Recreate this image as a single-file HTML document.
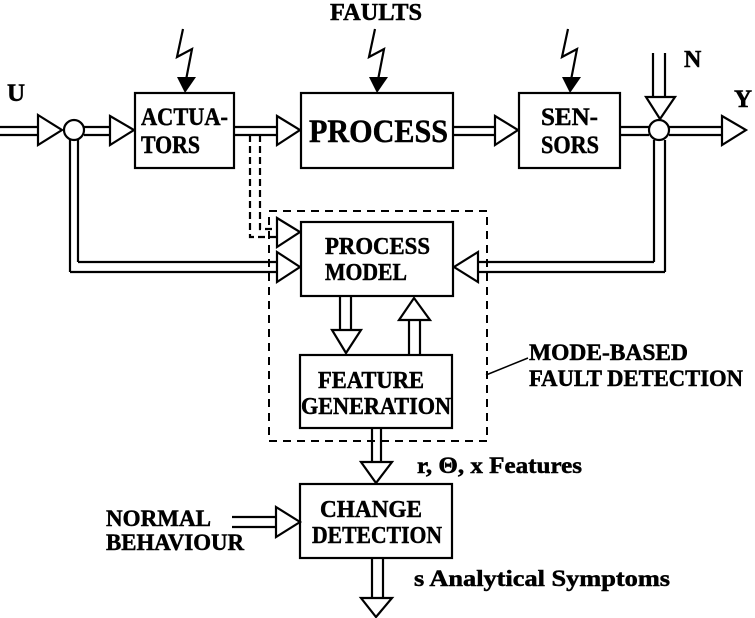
<!DOCTYPE html>
<html><head><meta charset="utf-8"><style>
html,body{margin:0;padding:0;background:#fff;}
svg{display:block;}
text{font-family:"Liberation Serif",serif;font-weight:bold;fill:#000;stroke:#000;stroke-width:0.5;}
</style></head><body>
<svg width="755" height="618" viewBox="0 0 755 618" xmlns="http://www.w3.org/2000/svg">
<g fill="none" stroke="#000" stroke-width="2.2">
<rect x="135" y="93" width="99" height="75"/>
<rect x="301" y="93" width="152" height="75"/>
<rect x="519" y="93" width="101" height="75"/>
<rect x="301" y="222" width="152" height="74"/>
<rect x="300" y="355" width="152" height="73"/>
<rect x="300" y="484" width="152" height="74"/>
<rect x="269" y="211" width="218" height="230" stroke-dasharray="8,6" stroke-width="2"/>
<line x1="486" y1="375" x2="528" y2="358" stroke-width="1.5"/>
<line x1="0" y1="127" x2="38" y2="127"/><line x1="0" y1="135" x2="38" y2="135"/>
<polygon points="38,115 62,130 38,145"/>
<circle cx="74" cy="130" r="10"/>
<line x1="84" y1="127" x2="110" y2="127"/><line x1="84" y1="135" x2="110" y2="135"/>
<polygon points="110,116 134,130 110,145"/>
<line x1="234" y1="127" x2="277" y2="127"/><line x1="234" y1="135" x2="277" y2="135"/>
<polygon points="277,116 300,130 277,145"/>
<line x1="453" y1="127" x2="495" y2="127"/><line x1="453" y1="135" x2="495" y2="135"/>
<polygon points="495,116 518,130 495,145"/>
<line x1="620" y1="127" x2="649" y2="127"/><line x1="620" y1="135" x2="649" y2="135"/>
<circle cx="659" cy="130" r="10"/>
<line x1="669" y1="127" x2="722" y2="127"/><line x1="669" y1="135" x2="722" y2="135"/>
<polygon points="722,116 746,130 722,145"/>
<line x1="653" y1="53" x2="653" y2="97"/><line x1="665" y1="53" x2="665" y2="97"/>
<polygon points="646,97 675,97 660,119"/>
<line x1="70" y1="140" x2="70" y2="272"/><line x1="78" y1="140" x2="78" y2="262"/>
<line x1="70" y1="272" x2="277" y2="272"/><line x1="78" y1="262" x2="277" y2="262"/>
<polygon points="277,252 300,267 277,282"/>
<path d="M250,135 V237 H277" stroke-dasharray="7,4"/>
<path d="M260,135 V229 H277" stroke-dasharray="7,4"/>
<polygon points="277,218 300,232 277,247"/>
<line x1="654" y1="140" x2="654" y2="262"/><line x1="665" y1="140" x2="665" y2="272"/>
<line x1="478" y1="262" x2="654" y2="262"/><line x1="478" y1="272" x2="665" y2="272"/>
<polygon points="478,252 454,267 478,282"/>
<line x1="340" y1="296" x2="340" y2="330"/><line x1="351" y1="296" x2="351" y2="330"/>
<polygon points="332,330 361,330 346,353"/>
<line x1="409" y1="355" x2="409" y2="320"/><line x1="420" y1="355" x2="420" y2="320"/>
<polygon points="399,320 430,320 414,298"/>
<line x1="372" y1="428" x2="372" y2="462"/><line x1="381" y1="428" x2="381" y2="462"/>
<polygon points="361,462 392,462 376,483"/>
<line x1="372" y1="558" x2="372" y2="598"/><line x1="383" y1="558" x2="383" y2="598"/>
<polygon points="361,598 392,598 376,617"/>
<line x1="232" y1="517" x2="276" y2="517"/><line x1="232" y1="527" x2="276" y2="527"/>
<polygon points="276,507 300,522 276,537"/>
<polyline points="183,29 177,57 192,49 186,80"/>
<polyline points="375,29 369,57 384,49 378,80"/>
<polyline points="568,29 562,57 577,49 571,80"/>
</g>
<g fill="#000">
<polygon points="177,77 196,77 185,93"/>
<polygon points="369,77 388,77 377,93"/>
<polygon points="562,77 581,77 570,93"/>
</g>
<text x="330" y="20" font-size="24" textLength="92" lengthAdjust="spacingAndGlyphs">FAULTS</text>
<text x="7" y="101" font-size="25">U</text>
<text x="684" y="67" font-size="24">N</text>
<text x="734" y="107" font-size="25">Y</text>
<text x="141" y="125" font-size="25" textLength="87" lengthAdjust="spacingAndGlyphs">ACTUA-</text>
<text x="141" y="153" font-size="25" textLength="59" lengthAdjust="spacingAndGlyphs">TORS</text>
<text x="309" y="142" font-size="33" textLength="139" lengthAdjust="spacingAndGlyphs">PROCESS</text>
<text x="541" y="125" font-size="25" textLength="57" lengthAdjust="spacingAndGlyphs">SEN-</text>
<text x="541" y="153" font-size="25" textLength="58" lengthAdjust="spacingAndGlyphs">SORS</text>
<text x="325" y="254" font-size="24" textLength="105" lengthAdjust="spacingAndGlyphs">PROCESS</text>
<text x="325" y="280" font-size="24" textLength="82" lengthAdjust="spacingAndGlyphs">MODEL</text>
<text x="318" y="388" font-size="24" textLength="106" lengthAdjust="spacingAndGlyphs">FEATURE</text>
<text x="301" y="414" font-size="24" textLength="150" lengthAdjust="spacingAndGlyphs">GENERATION</text>
<text x="320" y="517" font-size="24" textLength="102" lengthAdjust="spacingAndGlyphs">CHANGE</text>
<text x="312" y="543" font-size="24" textLength="130" lengthAdjust="spacingAndGlyphs">DETECTION</text>
<text x="529" y="360" font-size="23" textLength="159" lengthAdjust="spacingAndGlyphs">MODE-BASED</text>
<text x="529" y="386" font-size="23" textLength="214" lengthAdjust="spacingAndGlyphs">FAULT DETECTION</text>
<text x="417" y="473" font-size="23" textLength="165" lengthAdjust="spacingAndGlyphs">r, Θ, x Features</text>
<text x="414" y="586" font-size="23" textLength="256" lengthAdjust="spacingAndGlyphs">s  Analytical Symptoms</text>
<text x="106" y="526" font-size="23" textLength="105" lengthAdjust="spacingAndGlyphs">NORMAL</text>
<text x="106" y="550" font-size="23" textLength="138" lengthAdjust="spacingAndGlyphs">BEHAVIOUR</text>
</svg>
</body></html>
